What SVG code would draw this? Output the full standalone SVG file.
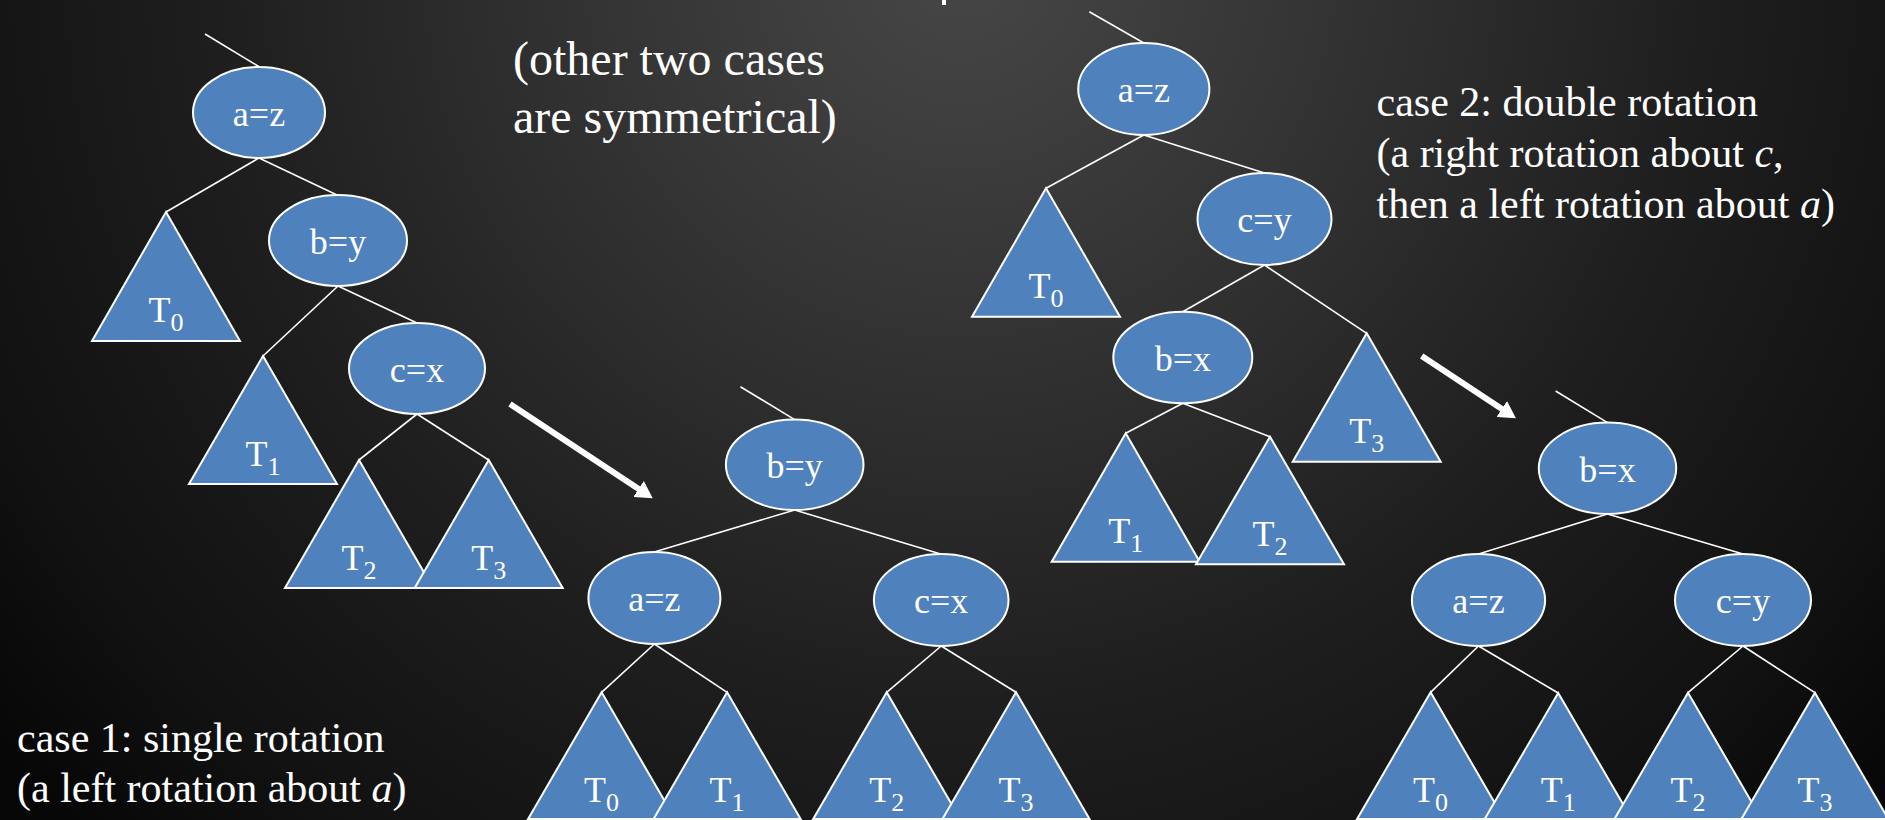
<svg xmlns="http://www.w3.org/2000/svg" width="1885" height="820" viewBox="0 0 1885 820">
<defs>
<radialGradient id="bg" gradientUnits="userSpaceOnUse" cx="960" cy="-40" r="1250">
<stop offset="0" stop-color="#474747"/>
<stop offset="0.3" stop-color="#333333"/>
<stop offset="0.6" stop-color="#1e1e1e"/>
<stop offset="0.85" stop-color="#111111"/>
<stop offset="1" stop-color="#060606"/>
</radialGradient>
<marker id="ah" markerUnits="userSpaceOnUse" markerWidth="17" markerHeight="19" viewBox="0 0 17 19" refX="7" refY="9.5" orient="auto">
<path d="M0,0 L17,9.5 L0,19 z" fill="#ffffff"/>
</marker>
<style>
.nd{fill:#4f81bd;stroke:#ffffff;stroke-width:2}
.tr{fill:#4f81bd;stroke:#ffffff;stroke-width:2;stroke-linejoin:miter}
.ed{stroke:#ffffff;stroke-width:1.6;fill:none}
.ar{stroke:#ffffff;stroke-width:6;fill:none;marker-end:url(#ah)}
.lb{font-family:"Liberation Serif","Times New Roman",serif;font-size:36px;fill:#ffffff;text-anchor:middle}
.sb{font-size:26px}
.tx{font-family:"Liberation Serif","Times New Roman",serif;font-size:42px;fill:#ffffff}
.tb{font-family:"Liberation Serif","Times New Roman",serif;font-size:48px;fill:#ffffff}
</style>
</defs>
<rect x="0" y="0" width="1885" height="820" fill="url(#bg)"/>
<rect x="942" y="0" width="4" height="5" fill="#ffffff"/>

<g id="connectors">
<line class="ed" x1="205" y1="34" x2="259.5" y2="67"/>
<line class="ed" x1="259" y1="158" x2="166" y2="212"/>
<line class="ed" x1="259" y1="158" x2="337" y2="195"/>
<line class="ed" x1="338" y1="286" x2="263" y2="356"/>
<line class="ed" x1="338" y1="286" x2="417" y2="323"/>
<line class="ed" x1="417" y1="414" x2="359" y2="460"/>
<line class="ed" x1="417" y1="414" x2="488.7" y2="460"/>

<line class="ed" x1="740.4" y1="386.7" x2="794.3" y2="419.4"/>
<line class="ed" x1="794.7" y1="510" x2="653.4" y2="552.3"/>
<line class="ed" x1="794.7" y1="510" x2="940.6" y2="554"/>
<line class="ed" x1="654.4" y1="644" x2="601.6" y2="692.3"/>
<line class="ed" x1="654.4" y1="644" x2="727.1" y2="692.3"/>
<line class="ed" x1="941.2" y1="646" x2="886.7" y2="692.3"/>
<line class="ed" x1="941.2" y1="646" x2="1016" y2="692.3"/>

<line class="ed" x1="1089.3" y1="11.7" x2="1143.8" y2="43"/>
<line class="ed" x1="1143.8" y1="135" x2="1046" y2="188.3"/>
<line class="ed" x1="1143.8" y1="135" x2="1264.5" y2="173"/>
<line class="ed" x1="1264.5" y1="265" x2="1182.8" y2="311.7"/>
<line class="ed" x1="1264.5" y1="265" x2="1366.7" y2="333.3"/>
<line class="ed" x1="1182.8" y1="403.3" x2="1125.7" y2="433.3"/>
<line class="ed" x1="1182.8" y1="403.3" x2="1270" y2="436.7"/>

<line class="ed" x1="1555.6" y1="391" x2="1607.5" y2="422.6"/>
<line class="ed" x1="1607.5" y1="514" x2="1478.5" y2="554"/>
<line class="ed" x1="1607.5" y1="514" x2="1743" y2="554"/>
<line class="ed" x1="1478.5" y1="646" x2="1430.6" y2="692.3"/>
<line class="ed" x1="1478.5" y1="646" x2="1558.2" y2="693"/>
<line class="ed" x1="1743" y1="646" x2="1688" y2="692.7"/>
<line class="ed" x1="1743" y1="646" x2="1814.9" y2="692.7"/>

<line class="ar" x1="510" y1="404" x2="644.4" y2="492.8"/>
<line class="ar" x1="1421.7" y1="356" x2="1507.6" y2="412.8"/>
</g>

<!-- case 1 before -->
<g id="c1-a"><ellipse class="nd" cx="259" cy="112.5" rx="66" ry="45.5"/><text class="lb" x="259" y="126">a=z</text></g>
<g id="c1-b"><ellipse class="nd" cx="338" cy="240.5" rx="69" ry="45.5"/><text class="lb" x="338" y="254">b=y</text></g>
<g id="c1-c"><ellipse class="nd" cx="417" cy="368.5" rx="68" ry="45.5"/><text class="lb" x="417" y="382">c=x</text></g>
<g id="c1-T0"><polygon class="tr" points="166,212 240,341 92,341"/><text class="lb" x="166" y="322">T<tspan class="sb" dy="9">0</tspan></text></g>
<g id="c1-T1"><polygon class="tr" points="263,356 337,484 189,484"/><text class="lb" x="263" y="466">T<tspan class="sb" dy="9">1</tspan></text></g>
<g id="c1-T2"><polygon class="tr" points="359,460 433,588 285,588"/><text class="lb" x="359" y="570">T<tspan class="sb" dy="9">2</tspan></text></g>
<g id="c1-T3"><polygon class="tr" points="488.7,460 562.7,588 414.7,588"/><text class="lb" x="488.7" y="570">T<tspan class="sb" dy="9">3</tspan></text></g>

<!-- case 1 after -->
<g id="r1-b"><ellipse class="nd" cx="794.7" cy="464.7" rx="68.8" ry="45.3"/><text class="lb" x="794.7" y="478">b=y</text></g>
<g id="r1-a"><ellipse class="nd" cx="654.4" cy="598" rx="66" ry="46"/><text class="lb" x="654.4" y="611">a=z</text></g>
<g id="r1-c"><ellipse class="nd" cx="941.2" cy="600" rx="67.3" ry="46"/><text class="lb" x="941.2" y="613">c=x</text></g>
<g id="r1-T0"><polygon class="tr" points="601.6,692.3 675.1,819 528.1,819"/><text class="lb" x="601.6" y="802">T<tspan class="sb" dy="9">0</tspan></text></g>
<g id="r1-T1"><polygon class="tr" points="727.1,692.3 800.6,819 653.6,819"/><text class="lb" x="727.1" y="802">T<tspan class="sb" dy="9">1</tspan></text></g>
<g id="r1-T2"><polygon class="tr" points="886.7,692.3 960.2,819 813.2,819"/><text class="lb" x="886.7" y="802">T<tspan class="sb" dy="9">2</tspan></text></g>
<g id="r1-T3"><polygon class="tr" points="1016,692.3 1089.5,819 942.5,819"/><text class="lb" x="1016" y="802">T<tspan class="sb" dy="9">3</tspan></text></g>

<!-- case 2 before -->
<g id="c2-a"><ellipse class="nd" cx="1143.8" cy="89" rx="65.6" ry="46"/><text class="lb" x="1143.8" y="102">a=z</text></g>
<g id="c2-c"><ellipse class="nd" cx="1264.5" cy="219" rx="67" ry="46"/><text class="lb" x="1264.5" y="232">c=y</text></g>
<g id="c2-b"><ellipse class="nd" cx="1182.8" cy="357.5" rx="69.5" ry="45.8"/><text class="lb" x="1182.8" y="371">b=x</text></g>
<g id="c2-T0"><polygon class="tr" points="1046,188.3 1120,316.7 972,316.7"/><text class="lb" x="1046" y="298">T<tspan class="sb" dy="9">0</tspan></text></g>
<g id="c2-T1"><polygon class="tr" points="1125.7,433.3 1199.7,561.7 1051.7,561.7"/><text class="lb" x="1125.7" y="543">T<tspan class="sb" dy="9">1</tspan></text></g>
<g id="c2-T2"><polygon class="tr" points="1270,436.7 1344,564.3 1196,564.3"/><text class="lb" x="1270" y="546">T<tspan class="sb" dy="9">2</tspan></text></g>
<g id="c2-T3"><polygon class="tr" points="1366.7,333.3 1440.7,461.7 1292.7,461.7"/><text class="lb" x="1366.7" y="443">T<tspan class="sb" dy="9">3</tspan></text></g>

<!-- case 2 after -->
<g id="r2-b"><ellipse class="nd" cx="1607.5" cy="468.3" rx="68.7" ry="45.7"/><text class="lb" x="1607.5" y="482">b=x</text></g>
<g id="r2-a"><ellipse class="nd" cx="1478.5" cy="600" rx="66.6" ry="46"/><text class="lb" x="1478.5" y="613">a=z</text></g>
<g id="r2-c"><ellipse class="nd" cx="1743" cy="600" rx="68" ry="46"/><text class="lb" x="1743" y="613">c=y</text></g>
<g id="r2-T0"><polygon class="tr" points="1430.6,692.3 1504.1,819 1357.1,819"/><text class="lb" x="1430.6" y="802">T<tspan class="sb" dy="9">0</tspan></text></g>
<g id="r2-T1"><polygon class="tr" points="1558.2,693 1631.7,819 1484.7,819"/><text class="lb" x="1558.2" y="802">T<tspan class="sb" dy="9">1</tspan></text></g>
<g id="r2-T2"><polygon class="tr" points="1688,692.7 1761.5,819 1614.5,819"/><text class="lb" x="1688" y="802">T<tspan class="sb" dy="9">2</tspan></text></g>
<g id="r2-T3"><polygon class="tr" points="1814.9,692.7 1888.4,819 1741.4,819"/><text class="lb" x="1814.9" y="802">T<tspan class="sb" dy="9">3</tspan></text></g>

<g id="notes">
<text class="tb" x="513" y="75">(other two cases</text>
<text class="tb" x="513" y="133">are symmetrical)</text>
<text class="tx" x="1376.5" y="116">case 2: double rotation</text>
<text class="tx" x="1376.5" y="167">(a right rotation about <tspan font-style="italic">c</tspan>,</text>
<text class="tx" x="1376.5" y="218">then a left rotation about <tspan font-style="italic">a</tspan>)</text>
<text class="tx" x="17" y="751.7">case 1: single rotation</text>
<text class="tx" x="17" y="801.7">(a left rotation about <tspan font-style="italic">a</tspan>)</text>
</g>
</svg>
